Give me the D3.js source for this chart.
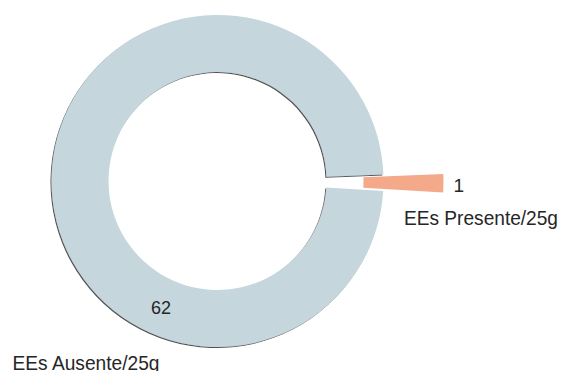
<!DOCTYPE html>
<html><head><meta charset="utf-8">
<script src="https://cdn.jsdelivr.net/npm/d3@7"></script>
<style>
body{margin:0;background:#fff;}
text{font-family:"Liberation Sans",Arial,sans-serif;fill:#262626;}
</style></head><body>
<svg id="c" width="563" height="371"></svg>
<script>
const categories = ["EEs Ausente/25g", "EEs Presente/25g"];
const values = [62, 1];
const colors = ["#c5d6dd", "#f4a98b"];

const svg = d3.select("#c");
const cx = 217.5, cy = 181, R = 166, r = 109;
const defs = svg.append("defs");
const f = defs.append("filter").attr("id","sh").attr("x","-10%").attr("y","-10%").attr("width","120%").attr("height","120%");
f.append("feDropShadow").attr("dx",-1).attr("dy",1).attr("stdDeviation",0.5).attr("flood-color","#333").attr("flood-opacity",0.85);

const total = d3.sum(values);
const smallAng = values[1] / total * 2 * Math.PI;
const smallMid = Math.PI/2 + 0.01;
const pie = d3.pie().sort(null).value(d => d)
  .startAngle(smallMid + smallAng/2).endAngle(smallMid + smallAng/2 + 2*Math.PI);
const arcs = pie(values);

const g = svg.append("g").attr("transform", `translate(${cx},${cy})`);
const bigArc = d3.arc().innerRadius(r).outerRadius(R);
const pullArc = d3.arc().innerRadius(106).outerRadius(186);
const pull = 40;

arcs.forEach((a, i) => {
  if (i === 0) {
    g.append("path").attr("d", bigArc(a)).attr("fill", colors[i]).attr("filter","url(#sh)");
  } else {
    const mid = (a.startAngle + a.endAngle) / 2;
    g.append("path").attr("d", pullArc(a)).attr("fill", colors[i])
      .attr("transform", `translate(${pull*Math.sin(mid)},${-pull*Math.cos(mid)})`);
  }
});

// labels
g.append("text").attr("x", -56.5).attr("y", 133).attr("text-anchor","middle")
  .attr("font-size",18).text(values[0]);
g.append("text").attr("x", -205).attr("y", 188.5).attr("font-size",21)
  .attr("textLength",147).attr("lengthAdjust","spacingAndGlyphs").text(categories[0]);
g.append("text").attr("x", 236).attr("y", 11).attr("font-size",19).text(values[1]);
g.append("text").attr("x", 186.5).attr("y", 44).attr("font-size",21)
  .attr("textLength",154).attr("lengthAdjust","spacingAndGlyphs").text(categories[1]);
</script></body></html>
